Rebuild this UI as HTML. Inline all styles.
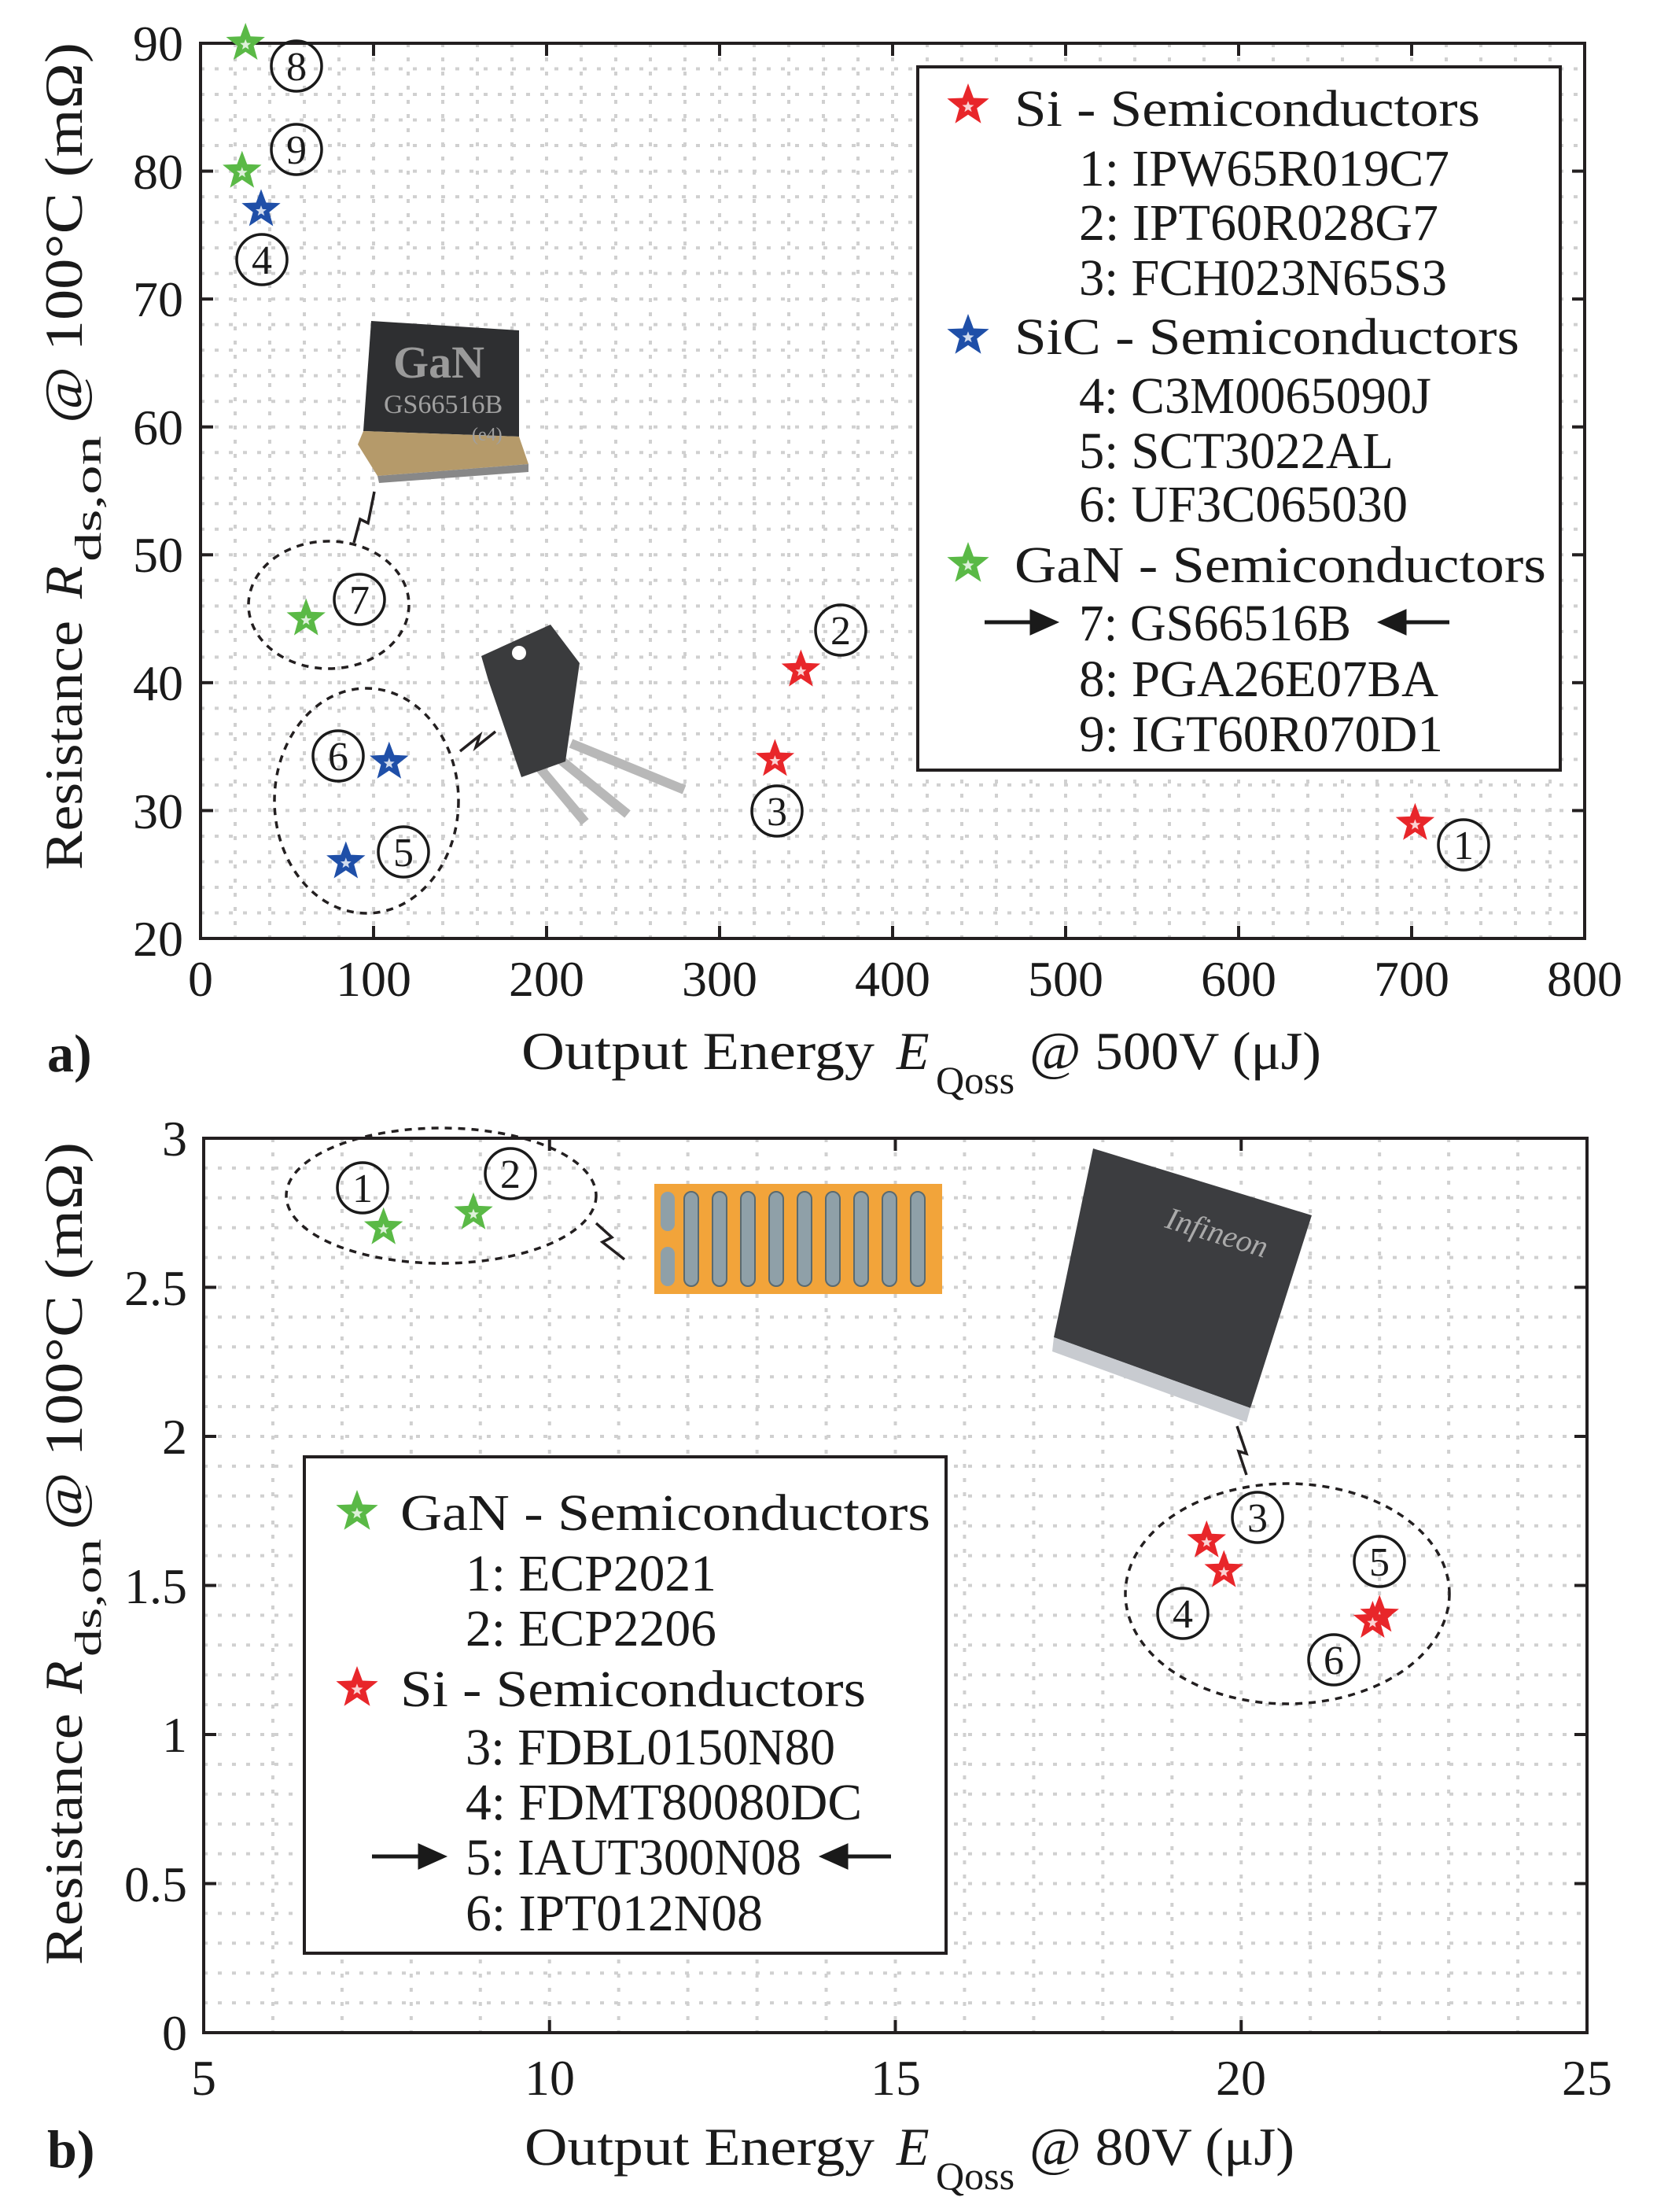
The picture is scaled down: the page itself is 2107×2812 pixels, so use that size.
<!DOCTYPE html>
<html><head><meta charset="utf-8"><style>
html,body{margin:0;padding:0;background:#fff}
svg{display:block}
text{font-family:"Liberation Serif",serif;fill:#1a1a1a}
</style></head><body>
<svg id="s" xmlns="http://www.w3.org/2000/svg" width="2107" height="2812" viewBox="0 0 2107 2812">
<g id="grid"></g>
<g id="imgs">
  <polygon points="472,408 660,420 660,555 462,548" fill="#2e2f31"/>
  <polygon points="462,548 660,555 672,590 480,605 455,565" fill="#b59a6a"/>
  <polygon points="480,605 672,590 672,600 482,614" fill="#888"/>
  <text x="500" y="480" font-family="Liberation Sans,sans-serif" font-size="58" font-weight="bold" style="fill:#9a9a9a">GaN</text>
  <text x="488" y="525" font-family="Liberation Sans,sans-serif" font-size="34" style="fill:#a0a0a0">GS66516B</text>
  <text x="600" y="560" font-family="Liberation Sans,sans-serif" font-size="24" style="fill:#a0a0a0">(e4)</text>
  <line x1="681" y1="970" x2="744" y2="1045" stroke="#b8b8b8" stroke-width="12"/>
  <line x1="708" y1="962" x2="798" y2="1035" stroke="#b8b8b8" stroke-width="12"/>
  <line x1="726" y1="945" x2="870" y2="1004" stroke="#b8b8b8" stroke-width="12"/>
  <polygon points="612,834 700,794 737,843 719,968 663,988 621,865" fill="#3a3b3d"/>
  <circle cx="660" cy="830" r="9" fill="#fff"/>
  <rect x="832" y="1505" width="366" height="140" fill="#f2a43a"/>
  <g id="pads"></g>
  <polygon points="1390,1460 1668,1545 1590,1790 1340,1700" fill="#3c3d40"/>
  <polygon points="1340,1700 1590,1790 1585,1808 1338,1718" fill="#c8cbd0"/>
  <text x="1480" y="1560" font-family="Liberation Sans,sans-serif" font-size="40" font-style="italic" transform="rotate(17 1480 1560)" style="fill:#aaa">Infineon</text>
</g>
<g id="frames" fill="none" stroke="#231f20" stroke-width="4">
  <rect x="255" y="55" width="1760" height="1138"/>
  <rect x="259" y="1447" width="1759" height="1137"/>
</g>
<g id="ticks" stroke="#231f20" stroke-width="4"></g>
<g fill="none" stroke="#231f20" stroke-width="3.5" stroke-dasharray="9,8">
  <ellipse cx="418" cy="769" rx="102" ry="81"/>
  <ellipse cx="466" cy="1018" rx="117" ry="143"/>
  <ellipse cx="561" cy="1520" rx="197" ry="86"/>
  <ellipse cx="1637" cy="2026" rx="206" ry="140"/>
</g>
<g fill="none" stroke="#231f20" stroke-width="3.5">
  <path d="M450,690 l8,-30 l10,5 l8,-40"/>
  <path d="M585,955 l25,-20 l-5,15 l25,-20"/>
  <path d="M758,1555 l20,18 l-12,6 l28,22"/>
  <path d="M1585,1875 l-10,-30 l10,3 l-12,-35"/>
</g>
<g id="stars"></g>
<g fill="none" stroke="#1a1a1a" stroke-width="3.5">
  <circle cx="377" cy="84" r="32"/><circle cx="377" cy="190" r="32"/><circle cx="333" cy="330" r="32"/>
  <circle cx="457" cy="762" r="32"/><circle cx="430" cy="961" r="32"/><circle cx="513" cy="1083" r="32"/>
  <circle cx="1069" cy="801" r="32"/><circle cx="988" cy="1031" r="32"/><circle cx="1861" cy="1074" r="32"/>
  <circle cx="461" cy="1510" r="32"/><circle cx="649" cy="1492" r="32"/><circle cx="1599" cy="1929" r="32"/>
  <circle cx="1504" cy="2051" r="32"/><circle cx="1754" cy="1985" r="32"/><circle cx="1696" cy="2110" r="32"/>
</g>
<g font-size="52" text-anchor="middle">
  <text x="377" y="102">8</text><text x="377" y="208">9</text><text x="333" y="348">4</text>
  <text x="457" y="780">7</text><text x="430" y="979">6</text><text x="513" y="1101">5</text>
  <text x="1069" y="819">2</text><text x="988" y="1049">3</text><text x="1861" y="1092">1</text>
  <text x="461" y="1528">1</text><text x="649" y="1510">2</text><text x="1599" y="1947">3</text>
  <text x="1504" y="2069">4</text><text x="1754" y="2003">5</text><text x="1696" y="2128">6</text>
</g>
<g font-size="64" text-anchor="end">
  <text x="233" y="77">90</text><text x="233" y="240">80</text><text x="233" y="402">70</text>
  <text x="233" y="565">60</text><text x="233" y="727">50</text><text x="233" y="890">40</text>
  <text x="233" y="1053">30</text><text x="233" y="1215">20</text>
</g>
<g font-size="64" text-anchor="middle">
  <text x="255" y="1266">0</text><text x="475" y="1266">100</text><text x="695" y="1266">200</text>
  <text x="915" y="1266">300</text><text x="1135" y="1266">400</text><text x="1355" y="1266">500</text>
  <text x="1575" y="1266">600</text><text x="1795" y="1266">700</text><text x="2015" y="1266">800</text>
</g>
<g font-size="64" text-anchor="end">
  <text x="238" y="1469">3</text><text x="238" y="1659">2.5</text><text x="238" y="1848">2</text>
  <text x="238" y="2038">1.5</text><text x="238" y="2227">1</text><text x="238" y="2417">0.5</text>
  <text x="238" y="2606">0</text>
</g>
<g font-size="64" text-anchor="middle">
  <text x="259" y="2663">5</text><text x="699" y="2663">10</text><text x="1139" y="2663">15</text>
  <text x="1578" y="2663">20</text><text x="2018" y="2663">25</text>
</g>
<g font-size="68">
  <text x="663" y="1359" textLength="449" lengthAdjust="spacingAndGlyphs">Output Energy</text>
  <text x="1140" y="1359" font-style="italic">E</text>
  <text x="1190" y="1390" font-size="50">Qoss</text>
  <text x="1309" y="1359" textLength="371" lengthAdjust="spacingAndGlyphs">@ 500V (μJ)</text>
  <text x="60" y="1362" font-weight="bold">a)</text>
  <text x="667" y="2752" textLength="445" lengthAdjust="spacingAndGlyphs">Output Energy</text>
  <text x="1140" y="2752" font-style="italic">E</text>
  <text x="1190" y="2783" font-size="50">Qoss</text>
  <text x="1309" y="2752" textLength="337" lengthAdjust="spacingAndGlyphs">@ 80V (μJ)</text>
  <text x="60" y="2755" font-weight="bold">b)</text>
</g>
<g font-size="68" transform="translate(104,1106) rotate(-90)">
  <text x="0" y="0" textLength="317" lengthAdjust="spacingAndGlyphs">Resistance</text>
  <text x="345" y="0" font-style="italic">R</text>
  <text x="392" y="24" font-size="48" textLength="160" lengthAdjust="spacingAndGlyphs">ds,on</text>
  <text x="568" y="0" textLength="484" lengthAdjust="spacingAndGlyphs">@ 100°C (mΩ)</text>
</g>
<g font-size="68" transform="translate(104,2498) rotate(-90)">
  <text x="0" y="0" textLength="320" lengthAdjust="spacingAndGlyphs">Resistance</text>
  <text x="345" y="0" font-style="italic">R</text>
  <text x="392" y="24" font-size="48" textLength="150" lengthAdjust="spacingAndGlyphs">ds,on</text>
  <text x="553" y="0" textLength="493" lengthAdjust="spacingAndGlyphs">@ 100°C (mΩ)</text>
</g>
<rect x="1167" y="85" width="817" height="894" fill="#fff" stroke="#231f20" stroke-width="4"/>
<g font-size="66">
  <text x="1290" y="160" textLength="592" lengthAdjust="spacingAndGlyphs">Si - Semiconductors</text>
  <text x="1372" y="236" textLength="471" lengthAdjust="spacingAndGlyphs">1: IPW65R019C7</text>
  <text x="1372" y="305" textLength="457" lengthAdjust="spacingAndGlyphs">2: IPT60R028G7</text>
  <text x="1372" y="375" textLength="468" lengthAdjust="spacingAndGlyphs">3: FCH023N65S3</text>
  <text x="1290" y="450" textLength="642" lengthAdjust="spacingAndGlyphs">SiC - Semiconductors</text>
  <text x="1372" y="525" textLength="448" lengthAdjust="spacingAndGlyphs">4: C3M0065090J</text>
  <text x="1372" y="595" textLength="400" lengthAdjust="spacingAndGlyphs">5: SCT3022AL</text>
  <text x="1372" y="663" textLength="418" lengthAdjust="spacingAndGlyphs">6: UF3C065030</text>
  <text x="1290" y="740" textLength="676" lengthAdjust="spacingAndGlyphs">GaN - Semiconductors</text>
  <text x="1372" y="814" textLength="346" lengthAdjust="spacingAndGlyphs">7: GS66516B</text>
  <text x="1372" y="885" textLength="457" lengthAdjust="spacingAndGlyphs">8: PGA26E07BA</text>
  <text x="1372" y="955" textLength="463" lengthAdjust="spacingAndGlyphs">9: IGT60R070D1</text>
</g>
<rect x="387" y="1852" width="816" height="631" fill="#fff" stroke="#231f20" stroke-width="4"/>
<g font-size="66">
  <text x="509" y="1945" textLength="674" lengthAdjust="spacingAndGlyphs">GaN - Semiconductors</text>
  <text x="592" y="2022" textLength="319" lengthAdjust="spacingAndGlyphs">1: ECP2021</text>
  <text x="592" y="2092" textLength="319" lengthAdjust="spacingAndGlyphs">2: ECP2206</text>
  <text x="509" y="2169" textLength="592" lengthAdjust="spacingAndGlyphs">Si - Semiconductors</text>
  <text x="592" y="2243" textLength="470" lengthAdjust="spacingAndGlyphs">3: FDBL0150N80</text>
  <text x="592" y="2313" textLength="504" lengthAdjust="spacingAndGlyphs">4: FDMT80080DC</text>
  <text x="592" y="2383" textLength="427" lengthAdjust="spacingAndGlyphs">5: IAUT300N08</text>
  <text x="592" y="2454" textLength="378" lengthAdjust="spacingAndGlyphs">6: IPT012N08</text>
</g>
<g stroke="#1a1a1a" stroke-width="5" fill="#1a1a1a">
  <line x1="1252" y1="791" x2="1320" y2="791"/><polygon points="1341,791 1312,778 1312,804"/>
  <line x1="1778" y1="791" x2="1843" y2="791"/><polygon points="1757,791 1786,778 1786,804"/>
  <line x1="473" y1="2360" x2="542" y2="2360"/><polygon points="563,2360 534,2347 534,2373"/>
  <line x1="1068" y1="2360" x2="1133" y2="2360"/><polygon points="1047,2360 1076,2347 1076,2373"/>
</g>
<g id="lstars"></g>
<script>
(function(){
var NS="http://www.w3.org/2000/svg";
function el(p,t,a){var e=document.createElementNS(NS,t);for(var k in a)e.setAttribute(k,a[k]);p.appendChild(e);return e;}
var g=document.getElementById('grid');
var gs={stroke:'#d0d0d0','stroke-width':4,'stroke-dasharray':'5,13'};
function line(p,x1,y1,x2,y2,a){var o={x1:x1,y1:y1,x2:x2,y2:y2};for(var k in a)o[k]=a[k];el(p,'line',o);}
for(var i=1;i<40;i++){var x=255+i*44;line(g,x,55,x,1193,gs);}
for(var i=1;i<35;i++){var y=1193-i*1138/35;line(g,255,y,2015,y,gs);}
for(var i=1;i<20;i++){var x=259+i*1759/20;line(g,x,1447,x,2584,gs);}
for(var i=1;i<30;i++){var y=2584-i*1137/30;line(g,259,y,2018,y,gs);}
var t=document.getElementById('ticks');var L=16;
for(var i=0;i<=8;i++){var x=255+i*220;line(t,x,1193,x,1193-L,{});line(t,x,55,x,55+L,{});}
for(var i=0;i<=7;i++){var y=1193-i*1138/7;line(t,255,y,255+L,y,{});line(t,2015,y,2015-L,y,{});}
for(var i=0;i<=4;i++){var x=259+i*1759/4;line(t,x,2584,x,2584-L,{});line(t,x,1447,x,1447+L,{});}
for(var i=0;i<=6;i++){var y=2584-i*1137/6;line(t,259,y,259+L,y,{});line(t,2018,y,2018-L,y,{});}
var pd=document.getElementById('pads');
for(var i=0;i<9;i++){var x=870+i*36;el(pd,'rect',{x:x,y:1515,width:18,height:120,rx:9,fill:'#8fa0a8',stroke:'#5a6a70','stroke-width':2});}
el(pd,'rect',{x:840,y:1515,width:18,height:50,rx:9,fill:'#8fa0a8'});
el(pd,'rect',{x:840,y:1585,width:18,height:50,rx:9,fill:'#8fa0a8'});
function star(p,cx,cy,R,c){var pts=[];for(var i=0;i<10;i++){var r=i%2?R*0.42:R;var a=-Math.PI/2+i*Math.PI/5;pts.push((cx+r*Math.cos(a)).toFixed(1)+','+(cy+r*Math.sin(a)).toFixed(1));}
el(p,'polygon',{points:pts.join(' '),fill:c});
var pts2=[];for(var i=0;i<10;i++){var r=(i%2?R*0.42:R)*0.28;var a=-Math.PI/2+i*Math.PI/5;pts2.push((cx+r*Math.cos(a)).toFixed(1)+','+(cy+r*Math.sin(a)+2).toFixed(1));}
el(p,'polygon',{points:pts2.join(' '),fill:'#fff',opacity:0.8});}
var R='#e8262a',B='#1f4fa8',G='#5ab946';
var s=document.getElementById('stars');
function A(x,y){return [255+x*2.2,1193-(y-20)*16.257];}
function Bp(x,y){return [259+(x-5)*87.95,2584-y*379];}
[[702,29,R],[347,41,R],[332,34,R],[35,77,B],[84,26,B],[109,33.8,B],[61,45,G],[26,90,G],[24,80,G]].forEach(function(d){var p=A(d[0],d[1]);star(s,p[0],p[1],26,d[2]);});
[[7.6,2.7,G],[8.9,2.75,G],[19.5,1.65,R],[19.75,1.55,R],[22.0,1.4,R],[21.9,1.38,R]].forEach(function(d){var p=Bp(d[0],d[1]);star(s,p[0],p[1],26,d[2]);});
var ls=document.getElementById('lstars');
star(ls,1231,134,28,R);star(ls,1231,427,28,B);star(ls,1231,717,28,G);
star(ls,454,1922,28,G);star(ls,454,2146,28,R);
})();
</script>
</svg>
</body></html>
